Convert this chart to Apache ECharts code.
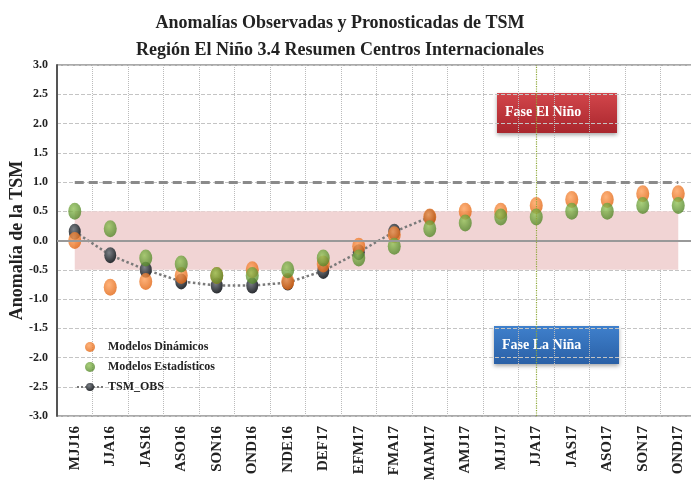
<!DOCTYPE html>
<html>
<head>
<meta charset="utf-8">
<script src="https://cdn.jsdelivr.net/npm/echarts@6/dist/echarts.min.js"></script>
<style>html,body{margin:0;padding:0;background:#fff}#c{width:691px;height:488px}</style>
</head>
<body>
<div id="c"></div>
<script>
var categories = ['MJJ16','JJA16','JAS16','ASO16','SON16','OND16','NDE16','DEF17','EFM17','FMA17','MAM17','AMJ17','MJJ17','JJA17','JAS17','ASO17','SON17','OND17'];
var dinamicos = [0.0,-0.8,-0.7,-0.6,-0.6,-0.5,-0.7,-0.4,-0.1,0.1,0.4,0.5,0.5,0.6,0.7,0.7,0.8,0.8];
var estadisticos = [0.5,0.2,-0.3,-0.4,-0.6,-0.6,-0.5,-0.3,-0.3,-0.1,0.2,0.3,0.4,0.4,0.5,0.5,0.6,0.6];
var tsmObs = [0.15,-0.25,-0.5,-0.7,-0.77,-0.77,-0.72,-0.52,-0.2,0.15,0.4,null,null,null,null,null,null,null];
var yTicks = [-3,-2.5,-2,-1.5,-1,-0.5,0,0.5,1,1.5,2,2.5,3];
var nino34Threshold = 1.0;
var neutralBand = [-0.5, 0.5];
var currentMonth = 'JJA17';

var serif = '"Liberation Serif","Times New Roman",serif';
function rg(c1, c2) {
  return {type:'radial', x:0.4, y:0.35, r:0.7, colorStops:[{offset:0,color:c1},{offset:1,color:c2}]};
}
var chart = echarts.init(document.getElementById('c'), null, {renderer:'canvas'});
chart.setOption({
  animation:false,
  backgroundColor:'#fff',
  title:{
    text:'Anomalías Observadas y Pronosticadas de TSM\nRegión El Niño 3.4 Resumen Centros Internacionales',
    left:335, textAlign:'center', top:5,
    textStyle:{fontFamily:serif, fontWeight:'bold', fontSize:18, color:'#222', lineHeight:27}
  },
  grid:{left:57, top:65, width:639, height:351, show:true, borderColor:'#555', borderWidth:1, outerBoundsMode:'none', containLabel:false},
  legend:{
    orient:'vertical', left:71, top:336, itemGap:8, itemWidth:26, itemHeight:10,
    textStyle:{fontFamily:serif, fontWeight:'bold', fontSize:12, color:'#222'},
    data:[{name:'Modelos Dinámicos', icon:'circle'},{name:'Modelos Estadísticos', icon:'circle'},{name:'TSM_OBS'}]
  },
  xAxis:{
    type:'category', data:categories, boundaryGap:true,
    axisLine:{lineStyle:{color:'#444', width:2}},
    axisTick:{show:false},
    axisLabel:{rotate:90, interval:0, margin:10, fontFamily:serif, fontWeight:'bold', fontSize:15, color:'#222'},
    splitLine:{show:true, interval:0, lineStyle:{color:'#bbb', type:'dotted', width:1}}
  },
  yAxis:{
    type:'value', min:yTicks[0], max:yTicks[yTicks.length-1], interval:0.5,
    name:'Anomalía de la TSM', nameLocation:'middle', nameGap:31, nameRotate:90, nameMoveOverlap:false,
    nameTextStyle:{fontFamily:serif, fontWeight:'bold', fontSize:18, color:'#222'},
    axisLine:{show:true, lineStyle:{color:'#555', width:2}},
    axisTick:{show:false},
    axisLabel:{fontFamily:serif, fontWeight:'bold', fontSize:12, color:'#222', margin:9,
      formatter:function(v){return v.toFixed(1);}},
    splitLine:{lineStyle:{color:'#c4c4c4', type:'dashed', width:1}}
  },
  series:[
    {
      name:'TSM_OBS', type:'line', data:tsmObs, z:2,
      symbol:'circle', symbolSize:[12,16],
      lineStyle:{color:'#7a7a7a', type:'dotted', width:2.5},
      itemStyle:{color:rg('#7b8086','#25282c')},
      markArea:{silent:true, itemStyle:{color:'#f1d4d4'},
        data:[[{xAxis:categories[0], yAxis:neutralBand[1]},{xAxis:categories[categories.length-1], yAxis:neutralBand[0]}]]},
      markLine:{silent:true, symbol:['none','none'], label:{show:false},
        data:[
          [{coord:[categories[0], nino34Threshold]},{coord:[categories[categories.length-1], nino34Threshold]}],
          {yAxis:0, lineStyle:{color:'#999', type:'solid', width:2}},
          {xAxis:currentMonth, lineStyle:{color:'#8ea838', type:'dotted', width:1.2}}
        ],
        lineStyle:{color:'#8a8a8a', type:[9,5], width:3}}
    },
    {
      name:'Modelos Dinámicos', type:'scatter', data:dinamicos, z:3,
      symbol:'circle', symbolSize:[13,17],
      itemStyle:{color:rg('#ffa05a','#e0620e')}
    },
    {
      name:'Modelos Estadísticos', type:'scatter', data:estadisticos, z:4,
      symbol:'circle', symbolSize:[13,17],
      itemStyle:{color:rg('#94c45a','#4f8226')}
    }
  ],
  graphic:[
    {type:'group', left:497, top:93, children:[
      {type:'rect', shape:{x:0,y:0,width:120,height:40},
        style:{fill:{type:'linear',x:0,y:0,x2:0,y2:1,colorStops:[{offset:0,color:'#d2464b'},{offset:1,color:'#a9262d'}]},
          shadowBlur:4, shadowColor:'rgba(0,0,0,0.35)', shadowOffsetY:2}},
      {type:'text', x:8, y:12, style:{text:'Fase El Niño', fill:'#fff', font:'bold 14px '+serif}}
    ]},
    {type:'group', left:494, top:326, children:[
      {type:'rect', shape:{x:0,y:0,width:125,height:38},
        style:{fill:{type:'linear',x:0,y:0,x2:0,y2:1,colorStops:[{offset:0,color:'#3f80cc'},{offset:1,color:'#2a60a6'}]},
          shadowBlur:4, shadowColor:'rgba(0,0,0,0.35)', shadowOffsetY:2}},
      {type:'text', x:8, y:12, style:{text:'Fase La Niña', fill:'#fff', font:'bold 14px '+serif}}
    ]}
  ]
});
</script>
</body>
</html>
